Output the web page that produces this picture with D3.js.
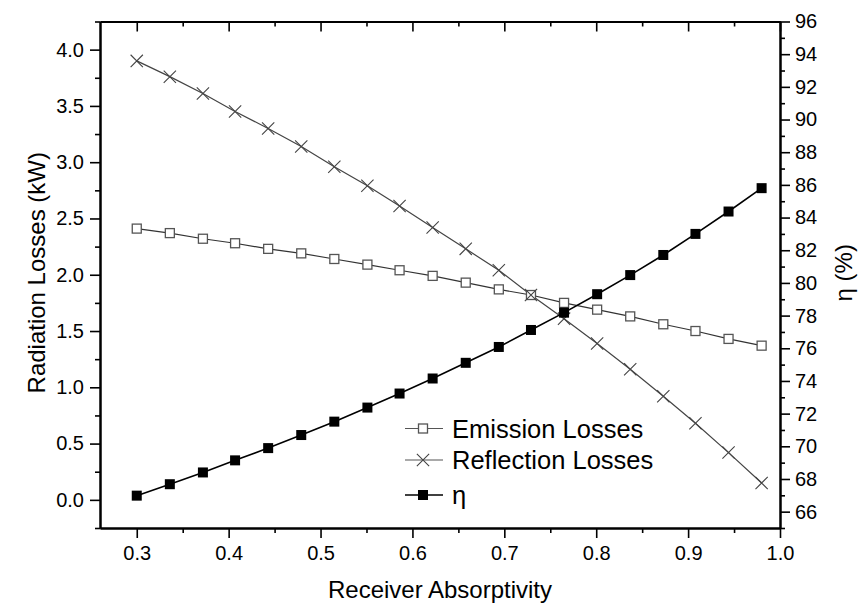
<!DOCTYPE html>
<html>
<head>
<meta charset="utf-8">
<script src="https://cdn.jsdelivr.net/npm/d3@7"></script>
<style>
  body { margin: 0; background: #fff; }
  text { font-family: "Liberation Sans", Arial, sans-serif; fill: #000; }
</style>
</head>
<body>
<div id="chart"></div>
<script>
// Data
const absorptivity = [0.300, 0.336, 0.372, 0.407, 0.443, 0.479, 0.515, 0.551, 0.586, 0.622,
                      0.658, 0.694, 0.729, 0.765, 0.801, 0.837, 0.873, 0.908, 0.944, 0.980];
const emissionLosses = [2.41, 2.37, 2.32, 2.28, 2.23, 2.19, 2.14, 2.09, 2.04, 1.99,
                        1.93, 1.87, 1.82, 1.75, 1.69, 1.63, 1.56, 1.50, 1.43, 1.37];
const reflectionLosses = [3.90, 3.76, 3.61, 3.45, 3.30, 3.14, 2.96, 2.79, 2.61, 2.42,
                          2.23, 2.04, 1.82, 1.61, 1.39, 1.16, 0.92, 0.68, 0.42, 0.15];
const eta = [66.98, 67.68, 68.40, 69.14, 69.89, 70.69, 71.51, 72.37, 73.23, 74.15,
             75.11, 76.08, 77.12, 78.18, 79.31, 80.48, 81.71, 83.00, 84.37, 85.80];
const xTicks = [0.3, 0.4, 0.5, 0.6, 0.7, 0.8, 0.9, 1.0];
const leftTicks = [0.0, 0.5, 1.0, 1.5, 2.0, 2.5, 3.0, 3.5, 4.0];
const rightTicks = [66, 68, 70, 72, 74, 76, 78, 80, 82, 84, 86, 88, 90, 92, 94, 96];
const legendLabels = ["Emission Losses", "Reflection Losses", "\u03b7"];

// Layout
const margin = { top: 21.5, right: 79, bottom: 80, left: 100 };
const width = 859 - margin.left - margin.right;
const height = 608 - margin.top - margin.bottom;

const svg = d3.select("#chart")
  .append("svg")
  .attr("width", 859)
  .attr("height", 608)
  .append("g")
  .attr("transform", "translate(" + margin.left + "," + margin.top + ")");

// Scales
const x = d3.scaleLinear().domain([0.26, 1.0]).range([0, width]);
const yLeft = d3.scaleLinear().domain([-0.25, 4.25]).range([height, 0]);
const yRight = d3.scaleLinear().domain([65, 96]).range([height, 0]);

const xMinor = d3.range(0.3, 1.0, 0.05).map(v => +v.toFixed(2)).filter(v => xTicks.indexOf(v) < 0);
const leftMinor = d3.range(-0.25, 4.3, 0.5).map(v => +v.toFixed(2));
const rightMinor = d3.range(65, 96, 2);

function styleAxis(g) {
  g.select(".domain").attr("stroke", "#000").attr("stroke-width", 2);
  g.selectAll(".tick line").attr("stroke", "#000").attr("stroke-width", 1.6);
  g.selectAll(".tick text").style("font-size", "20px");
}

// Bottom axis
svg.append("g")
  .attr("transform", "translate(0," + height + ")")
  .call(d3.axisBottom(x).tickValues(xTicks).tickFormat(d3.format(".1f")).tickSize(10).tickSizeOuter(0).tickPadding(8))
  .call(styleAxis);
svg.append("g")
  .attr("transform", "translate(0," + height + ")")
  .call(d3.axisBottom(x).tickValues(xMinor).tickFormat("").tickSize(5).tickSizeOuter(0))
  .call(styleAxis);

// Top axis (ticks point inward)
svg.append("g")
  .call(d3.axisBottom(x).tickValues(xTicks).tickFormat("").tickSize(10).tickSizeOuter(0))
  .call(styleAxis);
svg.append("g")
  .call(d3.axisBottom(x).tickValues(xMinor).tickFormat("").tickSize(5).tickSizeOuter(0))
  .call(styleAxis);

// Left axis
svg.append("g")
  .call(d3.axisLeft(yLeft).tickValues(leftTicks).tickFormat(d3.format(".1f")).tickSize(10).tickSizeOuter(0).tickPadding(6))
  .call(styleAxis);
svg.append("g")
  .call(d3.axisLeft(yLeft).tickValues(leftMinor).tickFormat("").tickSize(5).tickSizeOuter(0))
  .call(styleAxis);

// Right axis
svg.append("g")
  .attr("transform", "translate(" + width + ",0)")
  .call(d3.axisRight(yRight).tickValues(rightTicks).tickSize(10).tickSizeOuter(0).tickPadding(5))
  .call(styleAxis);
svg.append("g")
  .attr("transform", "translate(" + width + ",0)")
  .call(d3.axisRight(yRight).tickValues(rightMinor).tickFormat("").tickSize(5).tickSizeOuter(0))
  .call(styleAxis);

// Axis titles
svg.append("text")
  .attr("x", width / 2)
  .attr("y", height + 70)
  .attr("text-anchor", "middle")
  .style("font-size", "24px")
  .text("Receiver Absorptivity");

svg.append("text")
  .attr("transform", "translate(-55," + (height / 2 - 2) + ") rotate(-90)")
  .attr("text-anchor", "middle")
  .style("font-size", "24px")
  .text("Radiation Losses (kW)");

svg.append("text")
  .attr("transform", "translate(" + (width + 72) + "," + (height / 2 - 2) + ") rotate(-90)")
  .attr("text-anchor", "middle")
  .style("font-size", "24px")
  .text("\u03b7 (%)");

// Lines
const lossLine = d3.line().x((d, i) => x(absorptivity[i])).y(d => yLeft(d));
const etaLine = d3.line().x((d, i) => x(absorptivity[i])).y(d => yRight(d));

svg.append("path").datum(emissionLosses)
  .attr("d", lossLine).attr("fill", "none").attr("stroke", "#333").attr("stroke-width", 1.2);
svg.append("path").datum(reflectionLosses)
  .attr("d", lossLine).attr("fill", "none").attr("stroke", "#444").attr("stroke-width", 1.2);
svg.append("path").datum(eta)
  .attr("d", etaLine).attr("fill", "none").attr("stroke", "#000").attr("stroke-width", 1.6);

// Markers
const cross = d3.symbol().type(d3.symbolTimes).size(100);

svg.selectAll(".em")
  .data(emissionLosses)
  .enter()
  .append("rect")
  .attr("class", "em")
  .attr("x", (d, i) => x(absorptivity[i]) - 4.5)
  .attr("y", d => yLeft(d) - 4.5)
  .attr("width", 9)
  .attr("height", 9)
  .attr("fill", "#fff")
  .attr("stroke", "#555")
  .attr("stroke-width", 1.3);

svg.selectAll(".rf")
  .data(reflectionLosses)
  .enter()
  .append("path")
  .attr("class", "rf")
  .attr("transform", (d, i) => "translate(" + x(absorptivity[i]) + "," + yLeft(d) + ")")
  .attr("d", cross)
  .attr("fill", "none")
  .attr("stroke", "#444")
  .attr("stroke-width", 1.1);

svg.selectAll(".eta")
  .data(eta)
  .enter()
  .append("rect")
  .attr("class", "eta")
  .attr("x", (d, i) => x(absorptivity[i]) - 5)
  .attr("y", d => yRight(d) - 5)
  .attr("width", 10)
  .attr("height", 10)
  .attr("fill", "#000");

// Legend
const legend = svg.append("g").attr("transform", "translate(305,0)");
const legendY = [407, 438.5, 473.5];

legendLabels.forEach(function(label, i) {
  const row = legend.append("g").attr("transform", "translate(0," + legendY[i] + ")");
  row.append("line")
    .attr("x1", 0).attr("x2", 38)
    .attr("stroke", i === 2 ? "#000" : "#555")
    .attr("stroke-width", i === 2 ? 1.6 : 1.2);
  if (i === 0) {
    row.append("rect").attr("x", 13.5).attr("y", -4.5).attr("width", 9).attr("height", 9)
      .attr("fill", "#fff").attr("stroke", "#555").attr("stroke-width", 1.3);
  } else if (i === 1) {
    row.append("path").attr("transform", "translate(18,0)").attr("d", cross)
      .attr("fill", "#fff").attr("stroke", "#444").attr("stroke-width", 1.1);
  } else {
    row.append("rect").attr("x", 13).attr("y", -5).attr("width", 10).attr("height", 10).attr("fill", "#000");
  }
  row.append("text")
    .attr("x", 47)
    .attr("y", 9)
    .style("font-size", "25.5px")
    .text(label);
});
</script>
</body>
</html>
